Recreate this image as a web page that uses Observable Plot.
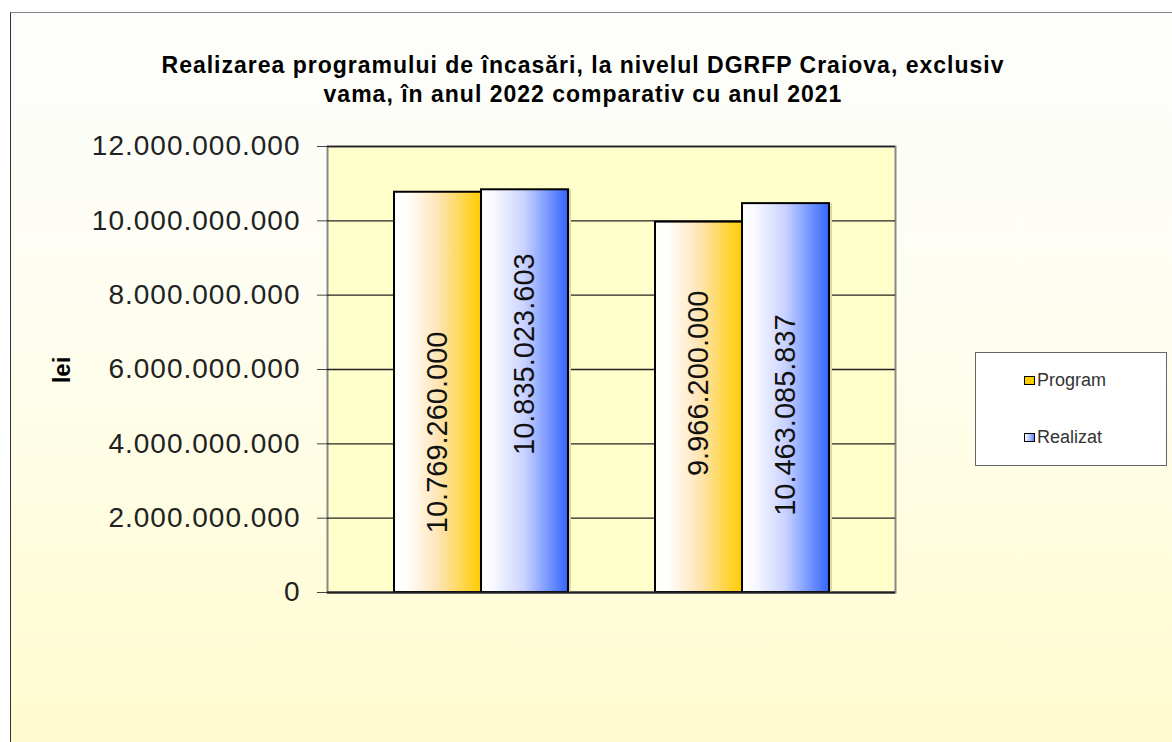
<!DOCTYPE html>
<html>
<head>
<meta charset="utf-8">
<script src="https://cdn.jsdelivr.net/npm/d3@7"></script>
<script src="https://cdn.jsdelivr.net/npm/@observablehq/plot@0.6"></script>
<style>
  html, body { margin: 0; padding: 0; background: #ffffff; }
  #wrap { position: relative; width: 1172px; height: 742px; overflow: hidden; font-family: "Liberation Sans", Arial, sans-serif; }
  #panel { position: absolute; left: 10px; top: 12px; width: 1180px; height: 760px;
    border-left: 1.5px solid #333; border-top: 1px solid #888;
    background: linear-gradient(to bottom, #fdfdfb 0%, #fefef6 30%, #fffde4 60%, #fffbcc 100%); }
  #title { position: absolute; left: 0; width: 1166px; top: 51px; text-align: center; font-weight: bold; font-size: 23px; letter-spacing: 1px; line-height: 29px; color: #000; }
  #ylab { position: absolute; left: 62px; top: 370px; transform: translate(-50%, -50%) rotate(-90deg); font-weight: bold; font-size: 24px; color: #000; }
  #legend { position: absolute; left: 975px; top: 352px; width: 192px; height: 114px; background: #fff; border: 1px solid #666; box-sizing: border-box; }
  .li { position: absolute; left: 48px; font-size: 18px; color: #333; display: flex; align-items: center; }
  .sw { width: 9px; height: 7px; border: 1.5px solid #000; margin-right: 2px; }
  #chart { position: absolute; left: 0; top: 0; }
  #chart svg { background: transparent !important; overflow: visible; }
  #chart svg g[aria-label="y-axis tick label"] text { letter-spacing: 1px; }
</style>
</head>
<body>
<svg width="0" height="0" style="position:absolute">
  <defs>
    <linearGradient id="gProgram" x1="0" x2="1" y1="0" y2="0">
      <stop offset="0" stop-color="#ffffff"/>
      <stop offset="0.15" stop-color="#fffefb"/>
      <stop offset="0.5" stop-color="#fee5b8"/>
      <stop offset="1" stop-color="#ffcc00"/>
    </linearGradient>
    <linearGradient id="gRealizat" x1="0" x2="1" y1="0" y2="0">
      <stop offset="0" stop-color="#ffffff"/>
      <stop offset="0.15" stop-color="#f8f9ff"/>
      <stop offset="0.5" stop-color="#c9d2ff"/>
      <stop offset="1" stop-color="#3366ff"/>
    </linearGradient>
  </defs>
</svg>
<div id="wrap">
  <div id="panel"></div>
  <div id="title">Realizarea programului de încasări, la nivelul DGRFP Craiova, exclusiv<br>vama, în anul 2022 comparativ cu anul 2021</div>
  <div id="ylab">lei</div>
  <div id="chart"></div>
  <div id="legend">
    <div class="li" style="top:17px"><span class="sw" style="background:#ffcc00"></span>Program</div>
    <div class="li" style="top:74px"><span class="sw" style="background:linear-gradient(to right,#ffffff,#6688ff)"></span>Realizat</div>
  </div>
</div>
<script>
// ---- data ----
const categories = ["2022", "2021"];
const seriesNames = ["Program", "Realizat"];
const programValues = [10769260000, 9966200000];
const realizatValues = [10835023603, 10463085837];
const yTicks = [0, 2000000000, 4000000000, 6000000000, 8000000000, 10000000000, 12000000000];

// ---- table ----
const valuesBySeries = {Program: programValues, Realizat: realizatValues};
const rows = [];
categories.forEach((c, i) => seriesNames.forEach(s => rows.push({category: c, series: s, value: valuesBySeries[s][i], slot: c + "|" + s})));
const slotDomain = [];
categories.forEach((c, i) => { if (i > 0) slotDomain.push("gap" + i); seriesNames.forEach(s => slotDomain.push(c + "|" + s)); });

const locale = d3.formatLocale({decimal: ",", thousands: ".", grouping: [3], currency: ["", ""]});
const fmt = locale.format(",d");

const labelShift = [40, -37, -24, 17];

const chart = Plot.plot({
  width: 1172,
  height: 742,
  marginLeft: 327,
  marginRight: 277,
  marginTop: 146,
  marginBottom: 150,
  style: {background: "transparent", fontFamily: "Liberation Sans, Arial, sans-serif"},
  x: {type: "band", domain: slotDomain, paddingInner: 0, paddingOuter: 0.742, axis: null},
  y: {domain: [0, 12000000000], axis: null},
  marks: [
    Plot.frame({fill: "#ffffcc", stroke: "#888", strokeWidth: 2}),
    Plot.gridY(yTicks, {stroke: "#222", strokeOpacity: 1, strokeWidth: 1.3}),
    Plot.axisY({ticks: yTicks, tickFormat: fmt, tickSize: 10, tickPadding: 17, fontSize: 28, label: null, color: "#222", stroke: "#444"}),
    Plot.barY(rows, {x: "slot", y: "value", fill: "#d8d8a8", dx: 3, dy: 0}),
    Plot.barY(rows.filter(d => d.series === "Program"), {x: "slot", y: "value", fill: "url(#gProgram)", stroke: "#000", strokeWidth: 2}),
    Plot.barY(rows.filter(d => d.series === "Realizat"), {x: "slot", y: "value", fill: "url(#gRealizat)", stroke: "#000", strokeWidth: 2}),
    Plot.ruleY([0], {stroke: "#222", strokeWidth: 2}),
    ...rows.map((r, i) => Plot.text([r], {x: "slot", y: d => d.value / 2, text: d => fmt(d.value), rotate: -90, fontSize: 29, fill: "#111", dy: labelShift[i]}))
  ]
});
document.getElementById("chart").appendChild(chart);
</script>
</body>
</html>
